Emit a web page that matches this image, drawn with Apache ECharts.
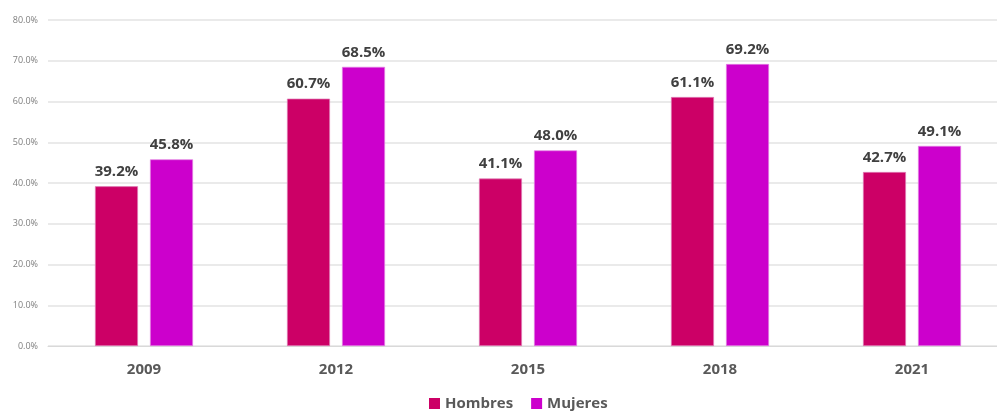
<!DOCTYPE html>
<html><head><meta charset="utf-8">
<script src="https://cdn.jsdelivr.net/npm/echarts@6/dist/echarts.min.js"></script>
<style>html,body{margin:0;padding:0;background:#fff;overflow:hidden}#c{width:1010px;height:411px}</style>
</head><body><div id="c"></div>
<script>
const categories = ['2009', '2012', '2015', '2018', '2021'];
const hombres = [39.2, 60.7, 41.1, 61.1, 42.7];
const mujeres = [45.8, 68.5, 48.0, 69.2, 49.1];
const yTicks = [0, 10, 20, 30, 40, 50, 60, 70, 80];

const chart = echarts.init(document.getElementById('c'));
const labelStyle = {
  show: true, position: 'top', distance: 7,
  formatter: p => p.value.toFixed(1) + '%',
  fontFamily: 'Open Sans', fontWeight: 'bold', fontSize: 15, color: '#404040'
};
chart.setOption({
  animation: false,
  grid: { left: 48, top: 20, width: 960, height: 326 },
  legend: {
    top: 391, left: 424, itemWidth: 11, itemHeight: 11, itemGap: 18,
    icon: 'rect',
    textStyle: { fontFamily: 'Open Sans', fontWeight: 'bold', fontSize: 15, color: '#595959' },
    data: [
      { name: 'Hombres', itemStyle: { borderWidth: 0 } },
      { name: 'Mujeres', itemStyle: { borderWidth: 0 } }
    ]
  },
  xAxis: {
    type: 'category', data: categories,
    axisLine: { lineStyle: { color: '#d9d9d9' } },
    axisTick: { show: false },
    axisLabel: { margin: 16, fontFamily: 'Open Sans', fontWeight: 'bold', fontSize: 15, color: '#595959' }
  },
  yAxis: {
    type: 'value', min: yTicks[0], max: yTicks[yTicks.length - 1], interval: 10,
    axisLabel: { formatter: v => v.toFixed(1) + '%', fontFamily: 'Open Sans', fontSize: 9, color: '#7f7f7f', margin: 10 },
    splitLine: { lineStyle: { color: '#e3e3e3', width: 1.5 } },
    axisLine: { show: false }, axisTick: { show: false }
  },
  series: [
    { name: 'Hombres', type: 'bar', data: hombres, barWidth: 43, barGap: '28%',
      itemStyle: { color: '#CC0066', borderColor: '#e07fb8', borderWidth: 0.7 }, label: labelStyle },
    { name: 'Mujeres', type: 'bar', data: mujeres, barWidth: 43,
      itemStyle: { color: '#CC00CC', borderColor: '#e27fe2', borderWidth: 0.7 }, label: labelStyle }
  ]
});
</script></body></html>
